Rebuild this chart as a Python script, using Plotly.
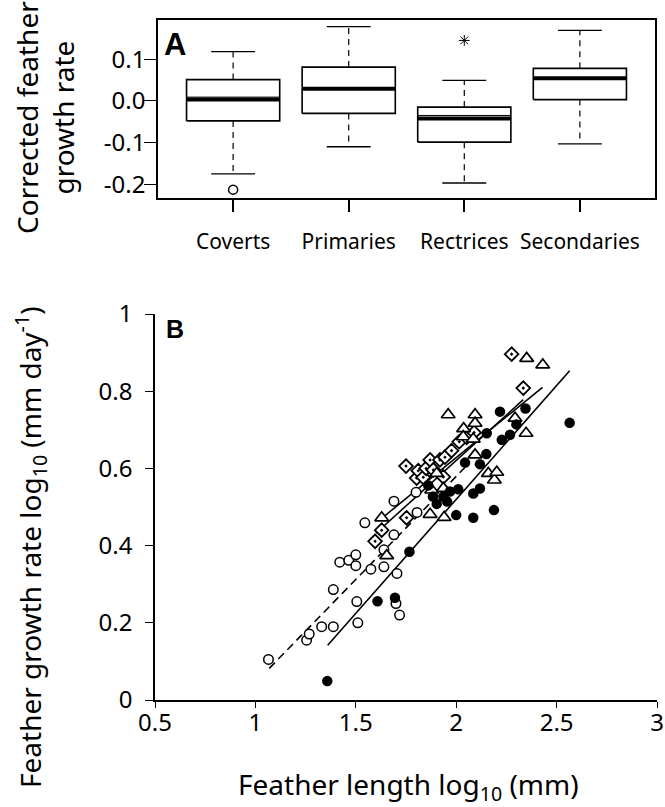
import plotly.graph_objects as go

# ---------------- Panel A data (box statistics) ----------------
categories = ["Coverts", "Primaries", "Rectrices", "Secondaries"]
whisker_low = [-0.175, -0.110, -0.197, -0.103]
q1 = [-0.048, -0.030, -0.099, 0.003]
median = [0.003, 0.029, -0.042, 0.054]
mean = [0.009, 0.029, -0.035, 0.054]
q3 = [0.051, 0.081, -0.015, 0.078]
whisker_high = [0.118, 0.178, 0.049, 0.169]
outlier_circle_cat = [1]
outlier_circle_val = [-0.213]
outlier_star_cat = [3]
outlier_star_val = [0.145]

# ---------------- Panel B data ----------------
coverts_x = [1.065, 1.255, 1.268, 1.330, 1.388, 1.388, 1.420, 1.465, 1.500, 1.500,
             1.505, 1.510, 1.575, 1.545, 1.640, 1.640, 1.690, 1.690, 1.700, 1.705,
             1.718, 1.800, 1.805]
coverts_y = [0.105, 0.155, 0.171, 0.190, 0.190, 0.286, 0.357, 0.362, 0.376, 0.348,
             0.255, 0.200, 0.339, 0.459, 0.345, 0.389, 0.428, 0.515, 0.250, 0.328,
             0.220, 0.538, 0.486]

rectrices_x = [1.358, 1.608, 1.695, 1.767, 1.861, 1.884, 1.903, 1.936, 1.955, 1.969,
               2.000, 2.010, 2.044, 2.085, 2.085, 2.118, 2.118, 2.150, 2.152, 2.188,
               2.227, 2.218, 2.268, 2.300, 2.345, 2.565]
rectrices_y = [0.049, 0.256, 0.265, 0.384, 0.556, 0.527, 0.508, 0.527, 0.514, 0.540,
               0.479, 0.546, 0.615, 0.535, 0.472, 0.548, 0.611, 0.637, 0.691, 0.492,
               0.674, 0.747, 0.687, 0.714, 0.755, 0.718]

primaries_x = [1.629, 1.654, 1.870, 1.878, 1.903, 1.936, 1.940, 1.960, 2.037, 2.035,
               2.094, 2.094, 2.085, 2.094, 2.160, 2.190, 2.202, 2.293, 2.348, 2.351,
               2.431]
primaries_y = [0.472, 0.374, 0.481, 0.544, 0.587, 0.548, 0.473, 0.739, 0.703, 0.682,
               0.739, 0.717, 0.676, 0.635, 0.587, 0.570, 0.590, 0.730, 0.691, 0.885,
               0.868]

secondaries_x = [1.596, 1.629, 1.753, 1.750, 1.803, 1.811, 1.836, 1.850, 1.870, 1.886,
                 1.919, 1.936, 1.944, 1.977, 2.015, 2.052, 2.089, 2.276, 2.334]
secondaries_y = [0.411, 0.440, 0.472, 0.606, 0.575, 0.594, 0.577, 0.600, 0.622, 0.596,
                 0.622, 0.578, 0.629, 0.646, 0.669, 0.680, 0.693, 0.896, 0.808]

# fitted line end points
coverts_fit_x = [1.069, 2.05]
coverts_fit_y = [0.082, 0.606]
rectrices_fit_x = [1.36, 2.565]
rectrices_fit_y = [0.142, 0.853]
primaries_fit_x = [1.632, 2.43]
primaries_fit_y = [0.472, 0.810]
secondaries_fit_x = [1.60, 2.334]
secondaries_fit_y = [0.432, 0.778]

W, H = 665, 807
FONT = "Noto Sans"
fig = go.Figure()

# ---------- Panel A: boxes drawn from the statistics ----------
half = 0.403
cap = 0.19
for i, name in enumerate(categories):
    c = i + 1
    fig.add_trace(go.Scatter(
        x=[c - half, c + half, c + half, c - half, c - half],
        y=[q1[i], q1[i], q3[i], q3[i], q1[i]],
        mode="lines", line=dict(color="black", width=1.6),
        xaxis="x", yaxis="y", showlegend=False, hoverinfo="skip"))
    fig.add_trace(go.Scatter(
        x=[c, c, None, c, c], y=[q3[i], whisker_high[i], None, q1[i], whisker_low[i]],
        mode="lines", line=dict(color="black", width=1.2, dash="6px,5px"),
        xaxis="x", yaxis="y", showlegend=False, hoverinfo="skip"))
    fig.add_trace(go.Scatter(
        x=[c - cap, c + cap, None, c - cap, c + cap],
        y=[whisker_high[i], whisker_high[i], None, whisker_low[i], whisker_low[i]],
        mode="lines", line=dict(color="black", width=1.3),
        xaxis="x", yaxis="y", showlegend=False, hoverinfo="skip"))
    fig.add_trace(go.Scatter(
        x=[c - half, c + half], y=[mean[i], mean[i]],
        mode="lines", line=dict(color="black", width=1),
        xaxis="x", yaxis="y", showlegend=False, hoverinfo="skip"))
    fig.add_trace(go.Scatter(
        x=[c - half, c + half], y=[median[i], median[i]],
        mode="lines", line=dict(color="black", width=4),
        xaxis="x", yaxis="y", showlegend=False, hoverinfo="skip"))

fig.add_trace(go.Scatter(
    x=outlier_circle_cat, y=outlier_circle_val, mode="markers",
    marker=dict(symbol="circle-open", size=9, color="black", line=dict(width=1.5)),
    xaxis="x", yaxis="y", showlegend=False))
fig.add_trace(go.Scatter(
    x=outlier_star_cat, y=outlier_star_val, mode="markers",
    marker=dict(symbol="asterisk-open", size=9, color="black", line=dict(width=1, color="black")),
    xaxis="x", yaxis="y", showlegend=False))

# ---------- Panel B ----------
line_solid = dict(color="black", width=1.6)
fig.add_trace(go.Scatter(x=coverts_fit_x, y=coverts_fit_y, mode="lines",
                         line=dict(color="black", width=1.6, dash="8px,5px"),
                         xaxis="x2", yaxis="y2", showlegend=False))
fig.add_trace(go.Scatter(x=rectrices_fit_x, y=rectrices_fit_y, mode="lines",
                         line=line_solid, xaxis="x2", yaxis="y2", showlegend=False))
fig.add_trace(go.Scatter(x=primaries_fit_x, y=primaries_fit_y, mode="lines",
                         line=line_solid, xaxis="x2", yaxis="y2", showlegend=False))
fig.add_trace(go.Scatter(x=secondaries_fit_x, y=secondaries_fit_y, mode="lines",
                         line=line_solid, xaxis="x2", yaxis="y2", showlegend=False))

fig.add_trace(go.Scatter(x=coverts_x, y=coverts_y, mode="markers",
                         marker=dict(symbol="circle", size=9.5, color="white",
                                     line=dict(color="black", width=1.5)),
                         xaxis="x2", yaxis="y2", showlegend=False))
fig.add_trace(go.Scatter(x=secondaries_x, y=secondaries_y, mode="markers",
                         marker=dict(symbol="diamond-dot", size=10.5, color="white",
                                     line=dict(color="black", width=1.8)),
                         xaxis="x2", yaxis="y2", showlegend=False))
fig.add_trace(go.Scatter(x=primaries_x, y=primaries_y, mode="markers",
                         marker=dict(symbol="triangle-up", size=12, color="white",
                                     line=dict(color="black", width=1.7)),
                         xaxis="x2", yaxis="y2", showlegend=False))
fig.add_trace(go.Scatter(x=rectrices_x, y=rectrices_y, mode="markers",
                         marker=dict(symbol="circle", size=10.5, color="black",
                                     line=dict(color="black", width=0)),
                         xaxis="x2", yaxis="y2", showlegend=False))

def px_x(v):
    return v / W

def px_y(v):
    return 1 - v / H

tick_font = dict(family=FONT, size=24, color="black")

fig.update_layout(
    width=W, height=H,
    margin=dict(l=0, r=0, t=0, b=0),
    paper_bgcolor="white", plot_bgcolor="white",
    showlegend=False,
    xaxis=dict(domain=[px_x(158), px_x(655)], range=[0.35, 4.65],
               tickmode="array", tickvals=[1, 2, 3, 4], ticktext=categories,
               ticks="outside", ticklen=12, tickwidth=1.5, tickcolor="black",
               showline=True, linecolor="black", linewidth=2, mirror=True,
               showgrid=False, zeroline=False, fixedrange=True,
               tickfont=dict(family=FONT, size=21, color="black"),
               ticklabelstandoff=12, automargin=False),
    yaxis=dict(domain=[px_y(198), px_y(20)], range=[-0.233, 0.194],
               tickmode="array", tickvals=[-0.2, -0.1, 0.0, 0.1],
               ticktext=["-0.2", "-0.1", "0.0", "0.1"],
               ticks="outside", ticklen=12, tickwidth=1.3, tickcolor="black",
               showline=True, linecolor="black", linewidth=1.5, mirror=True,
               showgrid=False, zeroline=False, fixedrange=True,
               tickfont=tick_font, ticklabelstandoff=-6, automargin=False),
    xaxis2=dict(domain=[px_x(155), px_x(657)], range=[0.5, 3.0], anchor="y2",
                tickmode="linear", tick0=0.5, dtick=0.5,
                ticks="outside", ticklen=6, tickwidth=1.3, tickcolor="black",
                showline=True, linecolor="black", linewidth=1.5, mirror=False,
                showgrid=False, zeroline=False, fixedrange=True,
                tickfont=tick_font, ticklabelstandoff=-6, automargin=False),
    yaxis2=dict(domain=[px_y(700), px_y(314)], range=[0, 1.0], anchor="x2",
                tickmode="linear", tick0=0, dtick=0.2,
                ticks="outside", ticklen=8, tickwidth=1.3, tickcolor="black",
                showline=True, linecolor="black", linewidth=1.5, mirror=False,
                showgrid=False, zeroline=False, fixedrange=True,
                tickfont=tick_font, ticklabelstandoff=8, automargin=False),
    annotations=[
        dict(text="Corrected feather<br>growth rate", textangle=-90,
             x=px_x(45), y=px_y(118), xref="paper", yref="paper",
             xanchor="center", yanchor="middle", showarrow=False,
             font=dict(family=FONT, size=28, color="black")),
        dict(text="Feather growth rate log<sub>10</sub> (mm day<sup>-1</sup>)", textangle=-90,
             x=px_x(30), y=px_y(547), xref="paper", yref="paper",
             xanchor="center", yanchor="middle", showarrow=False,
             font=dict(family=FONT, size=28, color="black")),
        dict(text="Feather length log<sub>10</sub> (mm)",
             x=px_x(408), y=px_y(786), xref="paper", yref="paper",
             xanchor="center", yanchor="middle", showarrow=False,
             font=dict(family=FONT, size=28, color="black")),
        dict(text="<b>A</b>", x=px_x(175), y=px_y(44), xref="paper", yref="paper",
             xanchor="center", yanchor="middle", showarrow=False,
             font=dict(family="Liberation Sans", size=31, color="black")),
        dict(text="<b>B</b>", x=px_x(175), y=px_y(329), xref="paper", yref="paper",
             xanchor="center", yanchor="middle", showarrow=False,
             font=dict(family="Liberation Sans", size=25, color="black")),
    ],
)

fig.write_html("out.html", config={"displayModeBar": False},
               post_script="document.body.style.margin='0px';")
